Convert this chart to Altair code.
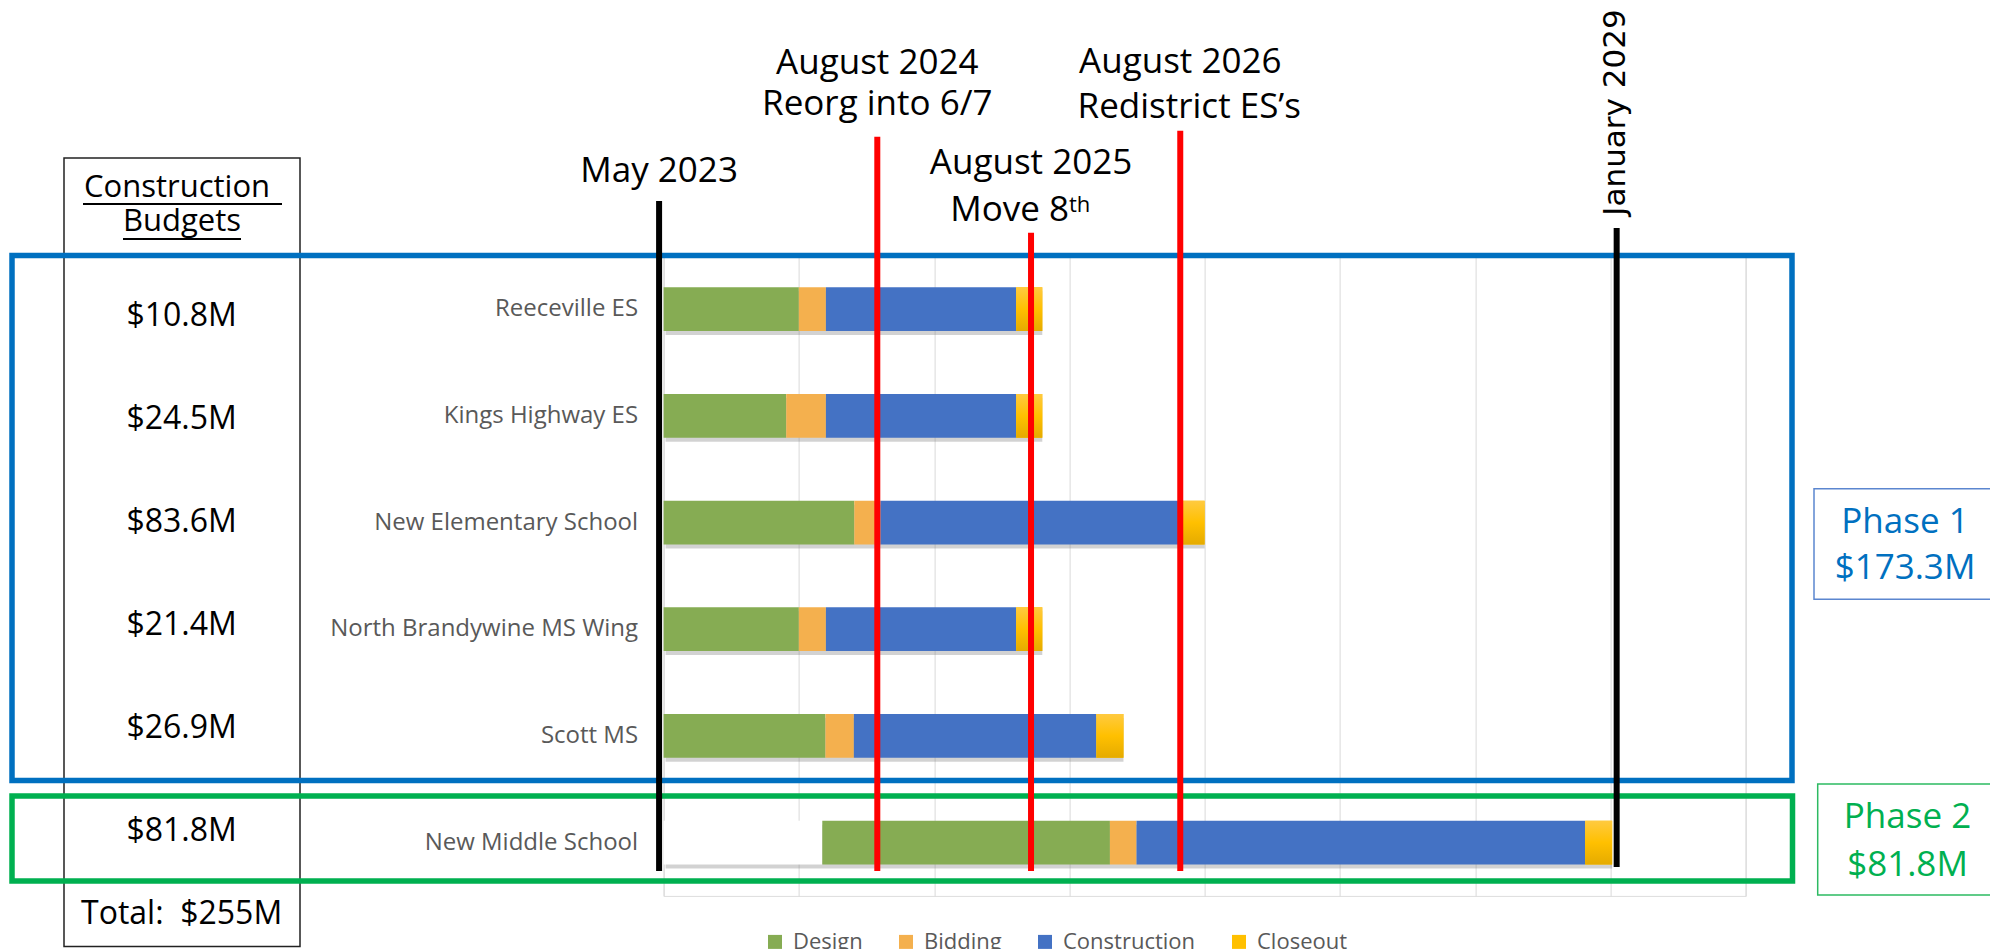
import altair as alt
import pandas as pd

# ---------------- data ----------------
projects = ["Reeceville ES", "Kings Highway ES", "New Elementary School",
            "North Brandywine MS Wing", "Scott MS", "New Middle School"]
budgets = ["$10.8M", "$24.5M", "$83.6M", "$21.4M", "$26.9M", "$81.8M"]
total_budget = "Total:\u00a0 $255M"

# durations in days from the start of the timeline
lead_days = [0, 0, 0, 0, 0, 352]
design_days = [300, 272, 423, 300, 359, 638]
bidding_days = [60, 88, 58, 60, 63, 59]
construction_days = [422, 422, 671, 422, 538, 995]
closeout_days = [58, 58, 48, 58, 60, 60]

phases = ["Design", "Bidding", "Construction", "Closeout"]
phase_colors = ["#86AC53", "#F4B04E", "#4472C4", "#FFC000"]

milestone_names = ["May 2023", "August 2024", "August 2025", "August 2026", "January 2029"]
milestone_days = [-10, 474, 815, 1146, 2114]
milestone_notes = ["", "Reorg into 6/7", "Move 8", "Redistrict ES\u2019s", ""]

grid_days = [0, 300, 600, 900, 1200, 1500, 1800, 2100, 2400]

phase_labels = ["Phase 1", "Phase 2"]
phase_budgets = ["$173.3M", "$81.8M"]

# ---------------- tables ----------------
rows = []
lead_rows = []
shadow_rows = []
for i, p in enumerate(projects):
    t = lead_days[i]
    if lead_days[i] > 0:
        lead_rows.append({"project": p, "start": 0, "end": lead_days[i]})
    durs = [design_days[i], bidding_days[i], construction_days[i], closeout_days[i]]
    for ph, d in zip(phases, durs):
        rows.append({"project": p, "phase": ph, "start": t, "end": t + d})
        t += d
    shadow_rows.append({"project": p, "start": 0, "end": t})
seg = pd.DataFrame(rows)
lead = pd.DataFrame(lead_rows)
shadow = pd.DataFrame(shadow_rows)
bud = pd.DataFrame({"project": projects, "budget": budgets})
one = pd.DataFrame({"k": [0]})

FONT = "Open Sans"

XS = alt.Scale(domain=[0, 2400], nice=False, zero=False)
XA = alt.Axis(values=grid_days, labels=False, ticks=False, domain=False, grid=True,
              gridColor="#D9D9D9", gridWidth=1, title=None)
YS = alt.Scale(domain=projects, paddingInner=0.59, paddingOuter=0.295)
YA = alt.Axis(title=None, ticks=False, domain=False, labelFontSize=24, labelColor="#595959",
              labelFont=FONT, labelPadding=26, labelLimit=500, grid=False)


def xenc(field):
    return alt.X(f"{field}:Q", scale=XS, axis=XA)


def yenc():
    return alt.Y("project:N", scale=YS, axis=YA)


def frame(x1, x2, y1, y2, color, width):
    return alt.Chart(one).mark_rect(fill="transparent", stroke=color, strokeWidth=width).encode(
        x=alt.value(x1), x2=alt.value(x2), y=alt.value(y1), y2=alt.value(y2))


def hline(x1, x2, y, color="black", width=2):
    return alt.Chart(one).mark_rule(color=color, strokeWidth=width).encode(
        x=alt.value(x1), x2=alt.value(x2), y=alt.value(y))


def vline(day, top, bottom, color, width):
    df = pd.DataFrame({"day": [day]})
    return alt.Chart(df).mark_rule(color=color, strokeWidth=width).encode(
        x=xenc("day"), y=alt.value(top), y2=alt.value(bottom))


def mtext(txt, day, y, dx=0, dy=0, size=35, align="center", angle=0, font=FONT, baseline="alphabetic"):
    df = pd.DataFrame({"day": [day]})
    kw = dict(text=txt, fontSize=size, align=align, baseline=baseline, font=font, color="black")
    if dx:
        kw["dx"] = dx
    if dy:
        kw["dy"] = dy
    if angle:
        kw["angle"] = angle
    return alt.Chart(df).mark_text(**kw).encode(x=xenc("day"), y=alt.value(y))


def ftext(txt, x, y, size, color="black", align="center", baseline="alphabetic"):
    return alt.Chart(one).mark_text(text=txt, fontSize=size, align=align, baseline=baseline,
                                    font=FONT, color=color).encode(x=alt.value(x), y=alt.value(y))


layers = []

# budget table frame and header
layers.append(frame(-599.6, -363.6, -97.9, 690.6, "#222222", 1.5))
layers.append(ftext("Construction", -486.6, -58.9, 31))
layers.append(hline(-580.6, -381.6, -51.9))
layers.append(ftext("Budgets", -481.6, -24.9, 31))
layers.append(hline(-540.6, -422.6, -16.9))
layers.append(ftext(total_budget, -482, 658.1, 32, baseline="middle"))

# phase frames
layers.append(frame(-651.6, 1128.4, -0.4, 524.6, "#0070C0", 5.5))
layers.append(frame(-651.6, 1128.9, 540.1, 625.1, "#00B050", 5.5))
layers.append(frame(1150.4, 1333.4, 232.8, 343.4, "#5B86CF", 1.5))
layers.append(frame(1154.1, 1345, 528.1, 639.1, "#2DBA62", 1.5))
layers.append(ftext(phase_labels[0], 1241.4, 266, 35, "#0070C0", baseline="middle"))
layers.append(ftext(phase_budgets[0], 1241.4, 312, 35, "#0070C0", baseline="middle"))
layers.append(ftext(phase_labels[1], 1243.9, 561, 35, "#00B050", baseline="middle"))
layers.append(ftext(phase_budgets[1], 1243.9, 609.4, 35, "#00B050", baseline="middle"))

# bar shadows
layers.append(alt.Chart(shadow).mark_bar(color="#7F7F7F", opacity=0.35, xOffset=2, yOffset=4).encode(
    x=xenc("start"), x2="end:Q", y=yenc()))
# invisible-start (white) bar
layers.append(alt.Chart(lead).mark_bar(color="white").encode(x=xenc("start"), x2="end:Q", y=yenc()))
# phase segments
layers.append(alt.Chart(seg).mark_bar().encode(
    x=xenc("start"), x2="end:Q", y=yenc(),
    color=alt.Color("phase:N", scale=alt.Scale(domain=phases, range=phase_colors),
                    legend=alt.Legend(orient="none", legendX=100.4, legendY=675, direction="horizontal",
                                      columns=4, title=None, symbolType="square", symbolSize=196,
                                      symbolStrokeWidth=0, labelFontSize=22, labelColor="#595959",
                                      labelFont=FONT, columnPadding=32, labelOffset=7, padding=0))))
# closeout gradient overlay
grad = alt.Gradient(gradient="linear",
                    stops=[alt.GradientStop(color="#FFCA40", offset=0),
                           alt.GradientStop(color="#FFC000", offset=0.5),
                           alt.GradientStop(color="#E5AB00", offset=1)],
                    x1=0, x2=0, y1=0, y2=1)
layers.append(alt.Chart(seg[seg["phase"] == "Closeout"]).mark_bar(color=grad).encode(
    x=xenc("start"), x2="end:Q", y=yenc()))

# milestone lines
layers.append(vline(milestone_days[0], -54.9, 615.1, "black", 6))
layers.append(vline(milestone_days[1], -119.2, 615.1, "#FF0000", 6))
layers.append(vline(milestone_days[2], -23.2, 615.1, "#FF0000", 6))
layers.append(vline(milestone_days[3], -125.2, 615.1, "#FF0000", 6))
layers.append(vline(milestone_days[4], -27.9, 611.1, "black", 6))

# milestone labels
layers.append(mtext(milestone_names[0], milestone_days[0], -74.2))
layers.append(mtext(milestone_names[1], milestone_days[1], -181.9))
layers.append(mtext(milestone_notes[1], milestone_days[1], -140.9))
layers.append(mtext(milestone_names[2], milestone_days[2], -81.9))
layers.append(mtext(milestone_notes[2], milestone_days[2], -35.2, dx=38, align="right"))
layers.append(mtext("th", milestone_days[2], -44.2, dx=38, size=22, align="left"))
layers.append(mtext(milestone_names[3], milestone_days[3], -183.2))
layers.append(mtext(milestone_notes[3], milestone_days[3], -137.6, dx=9))
layers.append(mtext(milestone_names[4], milestone_days[4], -143.4, dy=8, size=31, angle=270,
                    font="DejaVu Sans"))

main = alt.layer(*layers)

budget_layer = alt.Chart(bud).mark_text(fontSize=32, color="black", baseline="middle", align="center",
                                        font=FONT).encode(
    x=alt.value(-482),
    y=alt.Y("project:N", scale=alt.Scale(type="point", domain=projects, range=[59.8, 575.1], padding=0),
            axis=None),
    text="budget:N")

chart = alt.layer(main, budget_layer).resolve_scale(y="independent").properties(
    width=1082, height=640,
    padding={"left": 655.6, "top": 247.9, "right": 244.4, "bottom": 53.1},
    autosize=alt.AutoSizeParams(type="none"),
    background="white",
).configure_view(strokeWidth=0).configure(font=FONT)

chart.save("out.html", embed_options={"renderer": "svg", "actions": False})
